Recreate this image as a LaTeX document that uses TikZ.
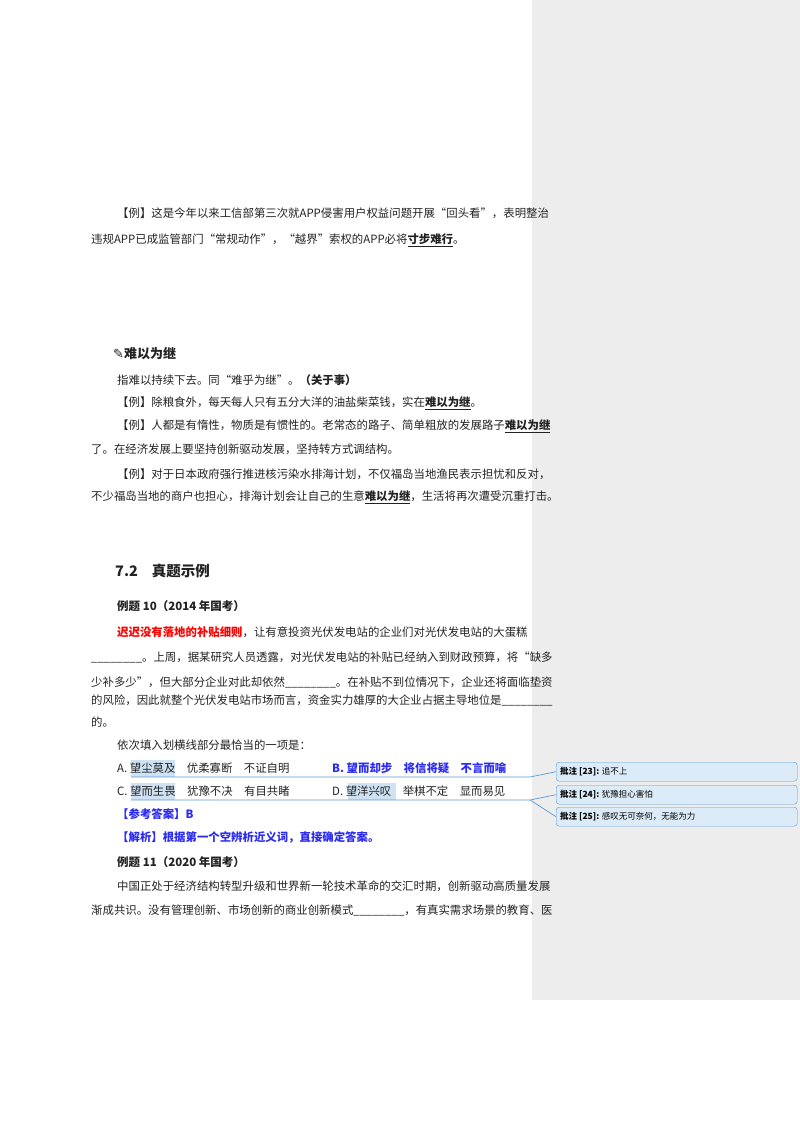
\documentclass[tikz,border=0pt]{standalone}
\usepackage{fontspec}
\setmainfont{Noto Sans CJK SC}
\newfontfamily\djv{DejaVu Sans}
\definecolor{side}{HTML}{EDEDED}
\definecolor{cbox}{HTML}{DCEBF8}
\definecolor{cline}{HTML}{5B9BD5}
\definecolor{hl}{HTML}{CFE2F3}
\definecolor{ansblue}{HTML}{2A2AF0}
\definecolor{txt}{HTML}{222222}
\begin{document}
\begin{tikzpicture}[x=1pt,y=-1pt,
  l/.style={anchor=west,inner sep=0pt,font=\fontsize{11.4}{14}\selectfont,text=txt},
  cbx/.style={draw=cline,fill=cbox,rounded corners=3pt,minimum width=241pt,minimum height=19pt,anchor=north west,inner sep=0pt},
  ct/.style={anchor=west,inner sep=0pt,font=\fontsize{8.5}{10}\selectfont}]
\useasboundingbox (0,0) rectangle (800,1132);
\fill[side] (532,0) rectangle (800,1000);
\node[l] (p1) at (117,213) {【例】这是今年以来工信部第三次就APP侵害用户权益问题开展“回头看”，表明整治};
\node[l] (p2) at (91,240) {违规APP已成监管部门“常规动作”，“越界”索权的APP必将\textbf{\underline{寸步难行}}。};
\node[l,font=\fontsize{13}{15}\selectfont\bfseries] (h1) at (113,353) {{\djv ✎}难以为继};
\node[l] (p3) at (117,380) {指难以持续下去。同“难乎为继”。\textbf{（关于事）}};
\node[l] (p4) at (117,403) {【例】除粮食外，每天每人只有五分大洋的油盐柴菜钱，实在\textbf{\underline{难以为继}}。};
\node[l] (p5) at (117,426) {【例】人都是有惰性，物质是有惯性的。老常态的路子、简单粗放的发展路子\textbf{\underline{难以为继}}};
\node[l] (p6) at (91,449) {了。在经济发展上要坚持创新驱动发展，坚持转方式调结构。};
\node[l] (p7) at (117,474) {【例】对于日本政府强行推进核污染水排海计划，不仅福岛当地渔民表示担忧和反对，};
\node[l] (p8) at (91,497) {不少福岛当地的商户也担心，排海计划会让自己的生意\textbf{\underline{难以为继}}，生活将再次遭受沉重打击。};
\node[l,font=\fontsize{14.5}{16}\selectfont\bfseries] (h2) at (115,571) {7.2\hspace{14pt}真题示例};
\node[l,font=\fontsize{11.5}{14}\selectfont\bfseries] (q10) at (117,606) {例题 10（2014 年国考）};
\node[l] (a1) at (117,632) {\textcolor{red}{\textbf{迟迟没有落地的补贴细则}}，让有意投资光伏发电站的企业们对光伏发电站的大蛋糕};
\node[l] (a2) at (91,657) {\_\_\_\_\_\_\_\_。上周，据某研究人员透露，对光伏发电站的补贴已经纳入到财政预算，将“缺多};
\node[l] (a3) at (91,682) {少补多少”，但大部分企业对此却依然\_\_\_\_\_\_\_\_。在补贴不到位情况下，企业还将面临垫资};
\node[l] (a4) at (91,700) {的风险，因此就整个光伏发电站市场而言，资金实力雄厚的大企业占据主导地位是\_\_\_\_\_\_\_\_};
\node[l] (a5) at (91,722) {的。};
\node[l] (a6) at (117,745) {依次填入划横线部分最恰当的一项是：};
\fill[hl] (131,760) rectangle (175,777);
\fill[hl] (131,783) rectangle (175,800);
\fill[hl] (348,783) rectangle (396,800);
\node[l] (oA) at (117,768) {A.\ 望尘莫及\quad 优柔寡断\quad 不证自明};
\node[l,text=ansblue,font=\fontsize{11.4}{14}\selectfont\bfseries] (oB) at (332,768) {B.\ 望而却步\quad 将信将疑\quad 不言而喻};
\node[l] (oC) at (117,791) {C.\ 望而生畏\quad 犹豫不决\quad 有目共睹};
\node[l] (oD) at (332,791) {D.\ 望洋兴叹\quad 举棋不定\quad 显而易见};
\node[l,text=ansblue,font=\fontsize{11.4}{14}\selectfont\bfseries] (ans) at (117,814) {【参考答案】B};
\node[l,text=ansblue,font=\fontsize{11.4}{14}\selectfont\bfseries] (jx) at (117,837) {【解析】根据第一个空辨析近义词，直接确定答案。};
\node[l,font=\fontsize{11.5}{14}\selectfont\bfseries] (q11) at (117,862) {例题 11（2020 年国考）};
\node[l] (b1) at (117,886) {中国正处于经济结构转型升级和世界新一轮技术革命的交汇时期，创新驱动高质量发展};
\node[l] (b2) at (91,910) {渐成共识。没有管理创新、市场创新的商业创新模式\_\_\_\_\_\_\_\_，有真实需求场景的教育、医};
\node[cbx] (c23) at (556,762) {};
\node[ct] at (560,771.5) {\textbf{批注 [23]:} 追不上};
\node[cbx] (c24) at (556,785) {};
\node[ct] at (560,794.5) {\textbf{批注 [24]:} 犹豫担心害怕};
\node[cbx] (c25) at (556,807) {};
\node[ct] at (560,816.5) {\textbf{批注 [25]:} 感叹无可奈何，无能为力};
\coordinate (k1) at (530,777);
\coordinate (k2) at (530,800);
\draw[cline,line width=0.7pt] (131,777) -- (k1) -- (c23.west);
\draw[cline,line width=0.7pt] (131,800) -- (k2) -- (c24.west);
\draw[cline,line width=0.7pt] (k2) -- (c25.west);
\end{tikzpicture}
\end{document}
